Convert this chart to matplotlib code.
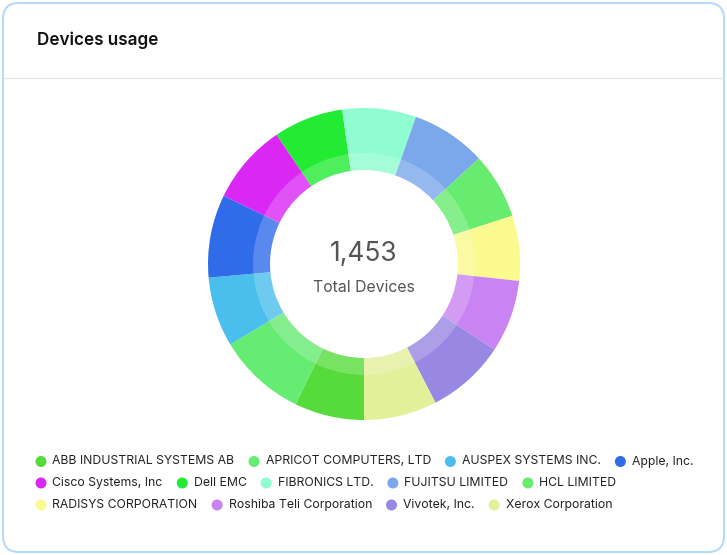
import matplotlib
matplotlib.use("Agg")
import matplotlib.pyplot as plt
from matplotlib.patches import FancyBboxPatch, Wedge, Circle

# dados do grafico
fabricantes = ["ABB INDUSTRIAL SYSTEMS AB", "APRICOT COMPUTERS, LTD", "AUSPEX SYSTEMS INC.",
               "Apple, Inc.", "Cisco Systems, Inc", "Dell EMC", "FIBRONICS LTD.",
               "FUJITSU LIMITED", "HCL LIMITED", "RADISYS CORPORATION",
               "Roshiba Teli Corporation", "Vivotek, Inc.", "Xerox Corporation"]
dispositivos = [105, 133, 105, 125, 121, 105, 111, 113, 99, 98, 109, 119, 110]
cores = ["#57DB3C", "#66EB73", "#4ABEEC", "#306BEA", "#DA27F4", "#23EB34", "#8FFDCF",
         "#7BA8EA", "#67EC70", "#FAFA8F", "#C983F2", "#9888E3", "#E3F09A"]
titulo = "Devices usage"
rotulo_total = "Total Devices"
linhas_legenda = [4, 5, 4]  # quantos itens em cada linha da legenda

plt.rcParams['font.family'] = ['Inter', 'DejaVu Sans']

W, H, dpi = 727, 555, 100
fig = plt.figure(figsize=(W / dpi, H / dpi), dpi=dpi)
fig.patch.set_facecolor("white")

# moldura do cartao (coordenadas em pixels)
fundo = fig.add_axes([0, 0, 1, 1])
fundo.set_xlim(0, W)
fundo.set_ylim(H, 0)
fundo.axis("off")
fundo.add_patch(FancyBboxPatch((3, 3), W - 6, H - 6, boxstyle="round,pad=0,rounding_size=16",
                               facecolor="white", edgecolor="#B5DAFA", linewidth=1.5))
fundo.plot([4, W - 4], [77.5, 77.5], color="#E6E6E6", linewidth=1)
fundo.text(37, 40, titulo, fontsize=12.3, fontweight="semibold", color="#111111",
           va="center", ha="left")

# donut
cx, cy, r_ext, r_int, r_faixa = 364, 264, 156, 94, 111
ax = fig.add_axes([(cx - r_ext) / W, (H - cy - r_ext) / H, 2 * r_ext / W, 2 * r_ext / H])
ax.pie(dispositivos, colors=cores, radius=1, startangle=-90, counterclock=False,
       wedgeprops=dict(width=(r_ext - r_int) / r_ext, edgecolor="none", linewidth=0))
ax.add_patch(Wedge((0, 0), r_faixa / r_ext, 0, 360, width=(r_faixa - r_int) / r_ext,
                   facecolor="white", alpha=0.2, edgecolor="none"))
ax.set_xlim(-1, 1)
ax.set_ylim(-1, 1)
ax.axis("off")

total = sum(dispositivos)
fundo.text(cx, 254, f"{total:,}", fontsize=19, color="#555555", ha="center", va="center")
fundo.text(cx, 287, rotulo_total, fontsize=11.4, color="#555555", ha="center", va="center")

# legenda em fluxo, alinhada a esquerda
fig.canvas.draw()
renderer = fig.canvas.get_renderer()
ys = [461.5, 483, 505]
k = 0
for linha, n in enumerate(linhas_legenda):
    x = 41
    for _ in range(n):
        fundo.add_patch(Circle((x, ys[linha]), 5.5, facecolor=cores[k], edgecolor="none"))
        t = fundo.text(x + 11.5, ys[linha], fabricantes[k], fontsize=8.8, color="#222222",
                       ha="left", va="center")
        largura = t.get_window_extent(renderer).width
        x = x + 11.5 + largura + 14 + 5.5
        k += 1

fig.savefig("out.png", dpi=dpi, facecolor="white")
